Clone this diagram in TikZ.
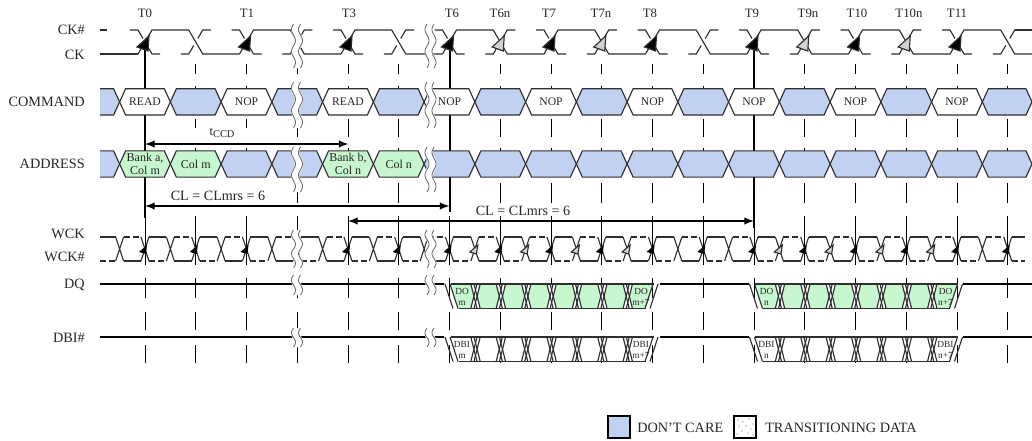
\documentclass[tikz,border=0pt]{standalone}
\usepackage{fontspec}
\usepackage{xcolor}
\setmainfont{Liberation Serif}
\definecolor{dontcare}{HTML}{C1D1F2}
\definecolor{datagreen}{HTML}{C6F7CE}
\definecolor{linegray}{HTML}{2E2E2E}
\definecolor{falltip}{HTML}{D2D2D2}

% one data burst on the DQ or DBI# row
\newcommand{\databurst}[6]{
\begin{scope}[shift={(#2,#3)}]
\fill[#4] (1,0) -- (204,0) -- (196,24.5) -- (9,24.5) -- cycle;
\draw[signal] (1,0) -- (204,0) (9,24.5) -- (196,24.5);
\draw[signal] (-4.5,0) -- (3.5,24.5) (0.5,0) -- (8.5,24.5);
\draw[signal] (200.5,24.5) -- (208.5,0) (195.5,24.5) -- (203.5,0);
\foreach \k in {0,...,6} {
\pgfmathsetmacro\c{26+25.375*\k}
\fill[white] (\c-4.7,0) -- (\c+4.7,0) -- (\c+1.6,12.25) -- (\c+4.7,24.5) -- (\c-4.7,24.5) -- (\c-1.6,12.25) -- cycle;
\draw[signal] (\c-4.7,0) -- (\c+1.5,24.5) (\c-1.5,0) -- (\c+4.7,24.5);
\draw[signal] (\c+4.7,0) -- (\c-1.5,24.5) (\c+1.5,0) -- (\c-4.7,24.5);
\draw[signal] (\c-4.7,0) -- (\c+4.7,0) (\c-4.7,24.5) -- (\c+4.7,24.5);
}
\node[burstlabel] (#1first) at (12.5,12.5) {#5\\#6};
\node[burstlabel] (#1last) at (191.5,12.5) {#5\\#6+7};
\end{scope}
}
% white break through a row, drawn over everything
\newcommand{\wavybreak}[4]{
\draw[white,line width=6pt] plot[domain=#2:#3,samples=31,smooth,variable=\t] ({#1-2*sin(360*#4*((\t-#2)/(#3-#2)))},\t);
\foreach \d in {-3.5,3.5} {
\draw[breakline] plot[domain=#2:#3,samples=31,smooth,variable=\t] ({#1+\d-2*sin(360*#4*((\t-#2)/(#3-#2)))},\t);
}
}

\begin{document}
\begin{tikzpicture}[x=0.75pt,y=-0.75pt,>=latex,
every node/.style={inner sep=0pt,text=black!85},
signal/.style={draw=linegray,line width=0.85pt},
dashsignal/.style={signal,dash pattern=on 4.5pt off 2.2pt},
tick/.style={black,line width=0.7pt},
strobe/.style={black,line width=1.5pt},
busline/.style={black,line width=1.4pt},
breakline/.style={black!60,line width=0.6pt},
rowlabel/.style={anchor=east,font=\fontsize{10.7}{12}\selectfont},
clocklabel/.style={font=\fontsize{9.6}{11}\selectfont},
cellcmd/.style={font=\fontsize{8.7}{10}\selectfont},
celladdr/.style={font=\fontsize{9}{9.5}\selectfont,align=center},
burstlabel/.style={font=\fontsize{7}{8.2}\selectfont,align=center},
timelabel/.style={font=\fontsize{10.6}{12}\selectfont,fill=white},
legendbox/.style={draw=black,line width=1.3pt,minimum size=17pt}]
\useasboundingbox (0,0) rectangle (1032,441);

% ticks behind everything
\foreach \i in {0,...,17} {
\pgfmathsetmacro\x{145+50.75*\i}
\foreach \ya/\yb in {64/74,86/90,119/137,148/152,183/203,216/265,278/298,312/330,345/363} {
\draw[tick] (\x,\ya) -- (\x,\yb);
}
}
% strobes at T0, T6, T9
\coordinate (t0top) at (145,42);
\coordinate (t0end) at (145,218);
\coordinate (t6top) at (449.5,42);
\coordinate (t6end) at (449.5,212);
\coordinate (t9top) at (754,42);
\coordinate (t9end) at (754,228);
\draw[strobe] (t0top) -- (t0end);
\draw[strobe] (t6top) -- (t6end);
\draw[strobe] (t9top) -- (t9end);

% COMMAND and ADDRESS rows
\foreach \yy/\f in {101.9/dontcare,164/dontcare} {
\fill[\f] (100,\yy-13.1) -- (113.6,\yy-13.1) -- (119.6,\yy) -- (113.6,\yy+13.1) -- (100,\yy+13.1) -- cycle;
\draw[signal] (100,\yy-13.1) -- (113.6,\yy-13.1) -- (119.6,\yy) -- (113.6,\yy+13.1) -- (100,\yy+13.1);
}
\foreach \i/\cmdfill/\addrfill in {0/white/datagreen,1/dontcare/datagreen,2/white/dontcare,3/dontcare/dontcare,
4/white/datagreen,5/dontcare/datagreen,6/white/dontcare,7/dontcare/dontcare,8/white/dontcare,9/dontcare/dontcare,
10/white/dontcare,11/dontcare/dontcare,12/white/dontcare,13/dontcare/dontcare,14/white/dontcare,15/dontcare/dontcare,
16/white/dontcare,17/dontcare/dontcare} {
\pgfmathsetmacro\l{119.6+50.75*\i}
\pgfmathsetmacro\r{min(\l+50.75,1032)}
\draw[signal,fill=\cmdfill] (\l,101.9) -- (\l+6,88.8) -- (\r-6,88.8) -- (\r,101.9) -- (\r-6,115) -- (\l+6,115) -- cycle;
\draw[signal,fill=\addrfill] (\l,164) -- (\l+6,150.9) -- (\r-6,150.9) -- (\r,164) -- (\r-6,177.1) -- (\l+6,177.1) -- cycle;
}
\foreach \i/\lbl in {0/READ,2/NOP,4/READ,6/NOP,8/NOP,10/NOP,12/NOP,14/NOP,16/NOP} {
\node[cellcmd] (cmd\i) at (145+50.75*\i,102) {\lbl};
}
\node[celladdr] (addr0) at (145,164) {Bank a,\\Col m};
\node[celladdr] (addr1) at (195.8,164) {Col m};
\node[celladdr] (addr4) at (348,164) {Bank b,\\Col n};
\node[celladdr] (addr5) at (398.8,164) {Col n};

% CK and CK#
\draw[signal] (100,54) -- (138,54) (100,30) -- (107,30) (1015,30) -- (1032,30);
\foreach \i in {0,...,17} {
\pgfmathsetmacro\x{145+50.75*\i}
\pgfmathsetmacro\xe{min(\x+43.75,1032)}
\pgfmathsetmacro\ya{mod(\i,2)==0 ? 30 : 54}
\pgfmathsetmacro\yb{84-\ya}
\draw[signal] (\x-7,\yb) -- (\x+7,\ya) -- (\xe,\ya);
\draw[signal] (\x-15,\ya) -- (\x-7,\ya) -- (\x-2,{\ya+(\yb-\ya)*5/14}) (\x+2,{\ya+(\yb-\ya)*9/14}) -- (\x+7,\yb) -- (\x+15,\yb);
}
\foreach \i/\tipfill in {0/black,2/black,4/black,6/black,7/falltip,8/black,9/falltip,10/black,12/black,13/falltip,14/black,15/falltip,16/black} {
\pgfmathsetmacro\x{145+50.75*\i}
\draw[signal,fill=\tipfill] (\x+4,36) -- (\x-8,47) -- (\x+3,51) -- cycle;
}

% WCK and WCK#
\draw[signal] (100,237) -- (115.6,237);
\draw[dashsignal] (100,261) -- (115.6,261);
\foreach \j in {0,...,35} {
\pgfmathsetmacro\x{119.6+25.375*\j}
\pgfmathsetmacro\xe{min(\x+21.375,1025)}
\pgfmathsetmacro\ya{mod(\j,2)==1 ? 237 : 261}
\pgfmathsetmacro\yb{498-\ya}
\draw[signal] (\x-4,237) -- (\x+4,261) (\x-4,261) -- (\x+4,237);
\draw[signal] (\x+4,\ya) -- (\xe,\ya);
\draw[dashsignal] (\x+4,\yb) -- (\xe,\yb);
}
\foreach \i in {0,1,2,4,5,6,7,8,9,10,11,12,13,14,15,16,17} {
\pgfmathsetmacro\x{145+50.75*\i}
\fill[black] (\x+2,245) -- (\x-6,252) -- (\x+1,254) -- cycle;
}
\foreach \i in {6,7,8,9,12,13,14,15} {
\pgfmathsetmacro\x{145+50.75*(\i+0.5)}
\draw[signal,fill=falltip] (\x+3,245) -- (\x-5,252) -- (\x+1.5,254) -- cycle;
}

% DQ and DBI#
\foreach \yy in {284,337} {
\draw[busline] (100,\yy) -- (444,\yy) (660,\yy) -- (749,\yy) (963,\yy) -- (1032,\yy);
}
\databurst{dqm}{449.5}{284}{datagreen}{DO}{m}
\databurst{dqn}{754}{284}{datagreen}{DO}{n}
\databurst{dbim}{449.5}{337}{white}{DBI}{m}
\databurst{dbin}{754}{337}{white}{DBI}{n}

% timing arrows
\coordinate (ccdstart) at (145,144);
\coordinate (ccdend) at (348.5,144);
\coordinate (clastart) at (145,206);
\coordinate (claend) at (449.5,206);
\coordinate (clbstart) at (348,221);
\coordinate (clbend) at (754,221);
\node[timelabel,minimum width=49pt,minimum height=8pt,font=\fontsize{9.6}{11}\selectfont] (tccd) at (222,133) {t\raisebox{-2pt}{\fontsize{7.8}{8}\selectfont CCD}};
\node[timelabel,minimum height=19.5pt] (cla) at (218,196) {CL = CLmrs = 6};
\node[timelabel] (clb) at (523,211) {CL = CLmrs = 6};
\draw[strobe,<->] (ccdstart) -- (ccdend);
\draw[strobe,<->] (clastart) -- (claend);
\draw[strobe,<->] (clbstart) -- (clbend);

% breaks
\foreach \bx in {297,430.5} {
\wavybreak{\bx}{24}{68}{2}
\wavybreak{\bx}{82}{128}{2}
\wavybreak{\bx}{147}{192}{2}
\wavybreak{\bx}{230}{268}{2}
\wavybreak{\bx}{275}{295}{1}
\wavybreak{\bx}{328}{347}{1}
}

% labels
\foreach \lbl/\x in {T0/145,T1/247,T3/349,T6/452,T6n/500,T7/549,T7n/601,T8/650,T9/752,T9n/808,T10/857,T10n/909,T11/957} {
\node[clocklabel] (\lbl) at (\x,13) {\lbl};
}
\node[rowlabel] (ckb) at (85,30) {CK\#};
\node[rowlabel] (ck) at (85,55) {CK};
\node[rowlabel] (command) at (85,102) {COMMAND};
\node[rowlabel] (address) at (85,164) {ADDRESS};
\node[rowlabel] (wck) at (85,234) {WCK};
\node[rowlabel] (wckb) at (85,257) {WCK\#};
\node[rowlabel] (dq) at (85,285) {DQ};
\node[rowlabel] (dbi) at (85,338) {DBI\#};

% legend
\node[legendbox,fill=dontcare] (caresq) at (619,427) {};
\node[legendbox] (transsq) at (745,427) {};
\foreach \dx/\dy in {-7/-7,-2/-5,4/-8,8/-3,-6/-1,1/-1,6/2,-3/4,3/6,-8/7,8/8} {
\fill[black!60] (745+\dx,427+\dy) circle (0.4pt);
}
\node[rowlabel,anchor=west] (caretext) at (637,428) {DON'T CARE};
\node[rowlabel,anchor=west] (transtext) at (765,428) {TRANSITIONING DATA};
\end{tikzpicture}
\end{document}
